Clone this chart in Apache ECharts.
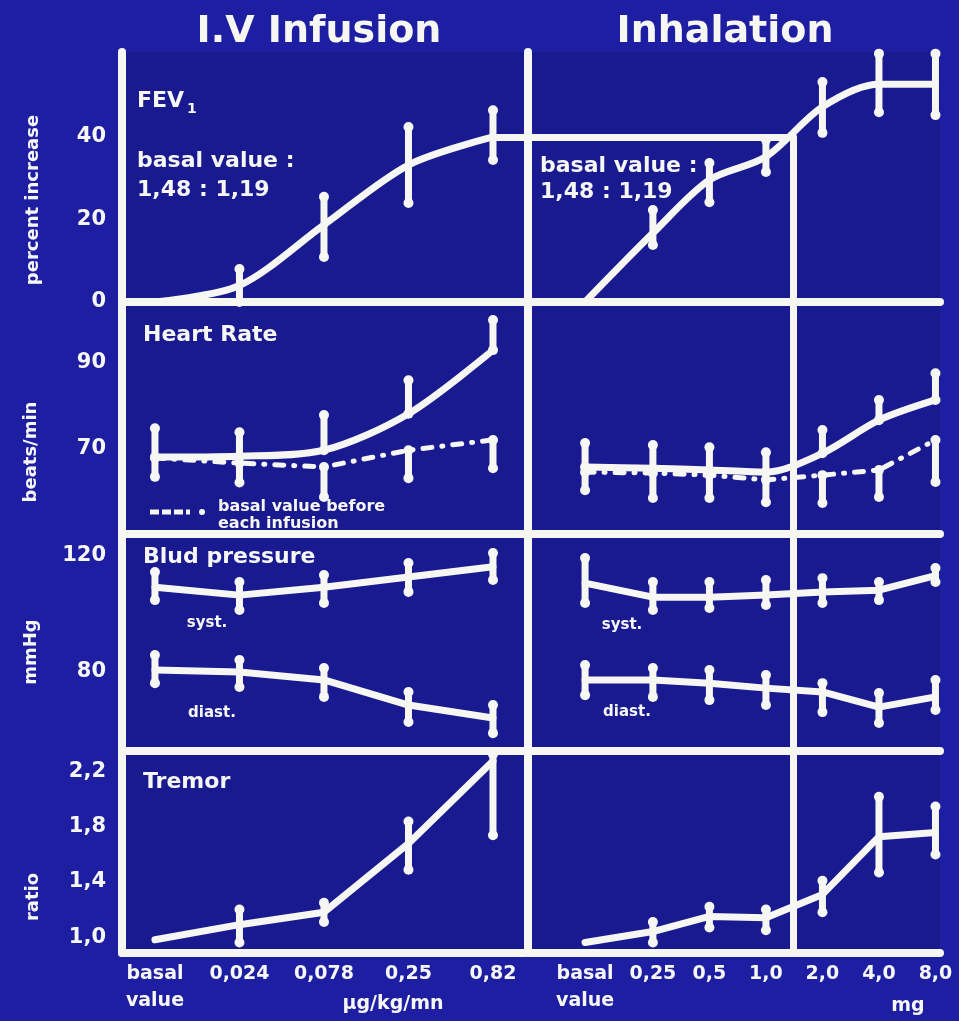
<!DOCTYPE html>
<html><head><meta charset="utf-8">
<script src="https://cdn.jsdelivr.net/npm/echarts@6/dist/echarts.min.js"></script>
<style>html,body{margin:0;padding:0;background:#1e1ea2;} #c{width:959px;height:1021px;}</style>
</head><body><div id="c"></div>
<script>
// ---------- data ----------
const ivDoseLabels = ['basal\nvalue', '0,024', '0,078', '0,25', '0,82'];
const inhDoseLabels = ['basal\nvalue', '0,25', '0,5', '1,0', '2,0', '4,0', '8,0'];
const inhDoseMg = [0, 0.25, 0.5, 1, 2, 4, 8];   // 0 = basal value
const equivalentDoseMg = 1.39;

const fev1TickLabels = [0, 20, 40];
const hrTickLabels = [70, 90];
const bpTickLabels = [80, 120];
const tremorTickLabels = [1.0, 1.4, 1.8, 2.2];

// FEV1, percent increase
const fev1Iv = [0, 4, 18.7, 33.2, 40];
const fev1IvLow = [null, 0, 10.9, 24, 34.4];
const fev1IvHigh = [null, 8, 25.5, 42.4, 46.5];
const fev1Inh = [0, 16.7, 29.6, 35.2, 47.3, 52.8, 52.8];
const fev1InhLow = [null, 13.8, 24.2, 31.5, 41, 46, 45.3];
const fev1InhHigh = [null, 22.3, 33.7, 39.3, 53.3, 60.2, 60.2];

// Heart rate, beats/min
const hrIv = [67.9, 68.1, 69.5, 78, 92.8];
const hrIvHigh = [74.6, 73.7, 77.7, 85.8, 99.8];
const hrIvBasal = [67.7, 66.5, 65.6, 69.5, 71.9];
const hrIvBasalLow = [63.3, 62, 58.6, 63, 65.3];
const hrInh = [65.6, 65.3, 64.9, 64.4, 68.8, 76.5, 81.2];
const hrInhHigh = [71.2, 70.7, 70.2, 69, 74.2, 81.2, 87.4];
const hrInhBasal = [64.4, 64.2, 63.7, 62.6, 63.7, 64.9, 71.9];
const hrInhBasalLow = [60.2, 58.4, 58.4, 57.4, 57.2, 58.6, 62.1];

// Blood pressure, mmHg
const bpSysIv = [109, 106.3, 109, 112.5, 116];
const bpSysIvLow = [104.6, 101.2, 103.6, 107.4, 111.5];
const bpSysIvHigh = [114.2, 110.8, 113.2, 117.3, 120.7];
const bpDiaIv = [80.7, 80, 77.3, 68.7, 64.3];
const bpDiaIvLow = [76.2, 74.9, 71.5, 62.9, 59.1];
const bpDiaIvHigh = [85.8, 84.1, 81.4, 73.2, 68.7];
const bpSysInh = [110.4, 105.6, 105.6, 106.3, 107.4, 108, 113];
const bpSysInhLow = [103.6, 101.2, 101.9, 102.9, 103.6, 104.6, 110.8];
const bpSysInhHigh = [119, 110.8, 110.8, 111.5, 112.1, 110.8, 115.6];
const bpDiaInh = [77.3, 77.3, 76.2, 74.5, 73.2, 68, 71.5];
const bpDiaInhLow = [72.1, 71.5, 70.4, 68.7, 66.3, 62.6, 67];
const bpDiaInhHigh = [82.4, 81.4, 80.7, 79, 76.2, 72.8, 77.3];

// Tremor, ratio
const tremorIv = [0.98, 1.09, 1.18, 1.68, 2.28];
const tremorIvLow = [null, 0.96, 1.11, 1.49, 1.74];
const tremorIvHigh = [null, 1.2, 1.25, 1.84, 2.33];
const tremorInh = [0.96, 1.04, 1.15, 1.14, 1.31, 1.73, 1.76];
const tremorInhLow = [null, 0.96, 1.07, 1.05, 1.18, 1.47, 1.6];
const tremorInhHigh = [null, 1.11, 1.22, 1.2, 1.41, 2.02, 1.95];

// ---------- layout ----------
const WHITE = '#f6f6f2';
const FONT = '"DejaVu Sans", sans-serif';
const INH_BASAL_POS = -3.2;
const ivX = ivDoseLabels.map((_, i) => i);
const inhX = inhDoseMg.map(d => d === 0 ? INH_BASAL_POS : Math.log2(d));
const eqX = Math.log2(equivalentDoseMg);
const IV_RANGE = [-0.39, 4.367];
const INH_RANGE = [-4.21, 3.08];
const COLS = [{ left: 122, width: 402 }, { left: 528, width: 412 }];
const ROWS = [{ top: 52, height: 250 }, { top: 302, height: 232 }, { top: 534, height: 217 }, { top: 751, height: 202 }];
const Y_RANGES = [[0, 60.6], [50, 104], [53, 127.2], [0.884, 2.353]];
const Y_TICKS = [fev1TickLabels, hrTickLabels, bpTickLabels, tremorTickLabels];

const grids = [], xAxes = [], yAxes = [];
ROWS.forEach((r, ri) => {
  COLS.forEach((c, ci) => {
    grids.push({ left: c.left, top: r.top, width: c.width, height: r.height, show: true,
      backgroundColor: '#191990', borderWidth: 0 });
    const k = grids.length - 1;
    const xr = ci === 0 ? IV_RANGE : INH_RANGE;
    const xPos = ci === 0 ? ivX : inhX;
    const xLab = ci === 0 ? ivDoseLabels : inhDoseLabels;
    xAxes.push({ type: 'value', gridIndex: k, min: xr[0], max: xr[1],
      splitLine: { show: false }, axisTick: { show: false },
      axisLine: { onZero: false, lineStyle: { color: WHITE, width: 8, cap: 'round' } },
      axisLabel: { show: ri === 3, customValues: xPos, margin: 8, color: WHITE,
        fontSize: 19, fontWeight: 'bold', fontFamily: FONT, lineHeight: 27, verticalAlign: 'top',
        formatter: v => { const i = xPos.findIndex(p => Math.abs(p - v) < 1e-6); return i < 0 ? '' : xLab[i]; } } });
    yAxes.push({ type: 'value', gridIndex: k, min: Y_RANGES[ri][0], max: Y_RANGES[ri][1],
      splitLine: { show: false }, axisTick: { show: false },
      axisLine: { onZero: false, lineStyle: { color: WHITE, width: 8, cap: 'round' } },
      axisLabel: { show: ci === 0, customValues: Y_TICKS[ri], margin: 16, color: WHITE,
        fontSize: 21, fontWeight: 'bold', fontFamily: FONT,
        formatter: v => ri === 3 ? v.toFixed(1).replace('.', ',') : String(Math.round(v)) } });
  });
});

function pts(xs, ys) { return xs.map((x, i) => [x, ys[i]]); }
function bars(xs, lo, hi) { return xs.map((x, i) => (lo[i] == null || hi[i] == null) ? null : [x, lo[i], hi[i]]).filter(Boolean); }

function errRender(params, api) {
  const a = api.coord([api.value(0), api.value(1)]);
  const b = api.coord([api.value(0), api.value(2)]);
  const st = { fill: WHITE };
  return { type: 'group', children: [
    { type: 'line', shape: { x1: a[0], y1: a[1], x2: b[0], y2: b[1] }, style: { stroke: WHITE, lineWidth: 7, lineCap: 'round' } },
    { type: 'circle', shape: { cx: a[0], cy: a[1], r: 5 }, style: st },
    { type: 'circle', shape: { cx: b[0], cy: b[1], r: 5 }, style: st }
  ] };
}
function errSeries(k, data) {
  return { type: 'custom', xAxisIndex: k, yAxisIndex: k, renderItem: errRender, data, silent: true, z: 4,
    encode: { x: 0, y: [1, 2] } };
}
function lineSeries(k, data, opt) {
  opt = opt || {};
  const s = { type: 'line', xAxisIndex: k, yAxisIndex: k, data, symbol: 'none', silent: true, z: 3,
    smooth: opt.smooth || false,
    lineStyle: { color: WHITE, width: opt.width || 7, cap: 'round', join: 'round', type: opt.type || 'solid' } };
  if (opt.mark) {
    s.markLine = { silent: true, symbol: ['none', 'none'], label: { show: false }, animation: false,
      lineStyle: { color: WHITE, width: 7, type: 'solid', cap: 'round' }, data: opt.mark };
  }
  return s;
}
const DOT = [9, 10, 1, 10];
const fev1Ref = fev1Iv[fev1Iv.length - 1];
const vMark = ri => [[{ coord: [eqX, Y_RANGES[ri][0]] }, { coord: [eqX, Y_RANGES[ri][1]] }]];

const series = [
  // FEV1
  lineSeries(0, pts(ivX, fev1Iv), { smooth: 0.3, mark: [[{ coord: [ivX[ivX.length - 1], fev1Ref] }, { coord: [IV_RANGE[1], fev1Ref] }]] }),
  errSeries(0, bars(ivX, fev1IvLow, fev1IvHigh)),
  lineSeries(1, pts(inhX, fev1Inh), { smooth: 0.3, mark: [
    [{ coord: [INH_RANGE[0], fev1Ref] }, { coord: [eqX, fev1Ref] }],
    [{ coord: [eqX, fev1Ref] }, { coord: [eqX, 0] }]] }),
  errSeries(1, bars(inhX, fev1InhLow, fev1InhHigh)),
  // Heart rate
  lineSeries(2, pts(ivX, hrIv), { smooth: 0.3 }),
  errSeries(2, bars(ivX, hrIv, hrIvHigh)),
  lineSeries(2, pts(ivX, hrIvBasal), { type: DOT, width: 5 }),
  errSeries(2, bars(ivX, hrIvBasalLow, hrIvBasal)),
  lineSeries(3, pts(inhX, hrInh), { smooth: 0.3, mark: vMark(1) }),
  errSeries(3, bars(inhX, hrInh, hrInhHigh)),
  lineSeries(3, pts(inhX, hrInhBasal), { type: DOT, width: 5 }),
  errSeries(3, bars(inhX, hrInhBasalLow, hrInhBasal)),
  // Blood pressure
  lineSeries(4, pts(ivX, bpSysIv)),
  errSeries(4, bars(ivX, bpSysIvLow, bpSysIvHigh)),
  lineSeries(4, pts(ivX, bpDiaIv)),
  errSeries(4, bars(ivX, bpDiaIvLow, bpDiaIvHigh)),
  lineSeries(5, pts(inhX, bpSysInh), { mark: vMark(2) }),
  errSeries(5, bars(inhX, bpSysInhLow, bpSysInhHigh)),
  lineSeries(5, pts(inhX, bpDiaInh)),
  errSeries(5, bars(inhX, bpDiaInhLow, bpDiaInhHigh)),
  // Tremor
  lineSeries(6, pts(ivX, tremorIv)),
  errSeries(6, bars(ivX, tremorIvLow, tremorIvHigh)),
  lineSeries(7, pts(inhX, tremorInh), { mark: vMark(3) }),
  errSeries(7, bars(inhX, tremorInhLow, tremorInhHigh))
];

function txt(text, x, y, size, opt) {
  opt = opt || {};
  return { type: 'text', x, y, rotation: opt.rot || 0, z: 10,
    style: { text, fill: WHITE, font: 'bold ' + size + 'px ' + FONT,
      textAlign: opt.align || 'left', textVerticalAlign: 'middle',
      align: opt.align || 'left', verticalAlign: 'middle', lineHeight: opt.lh || size + 4 } };
}
const graphics = [
  txt('I.V Infusion', 319, 32, 38, { align: 'center' }),
  txt('Inhalation', 725, 32, 38, { align: 'center' }),
  txt('percent increase', 33, 200, 18, { align: 'center', rot: Math.PI / 2 }),
  txt('beats/min', 31, 452, 18, { align: 'center', rot: Math.PI / 2 }),
  txt('mmHg', 31, 652, 18, { align: 'center', rot: Math.PI / 2 }),
  txt('ratio', 33, 897, 18, { align: 'center', rot: Math.PI / 2 }),
  txt('FEV', 137, 101, 22),
  txt('1', 187, 109, 14),
  txt('basal value :', 137, 161, 22),
  txt('1,48 : 1,19', 137, 190, 22),
  txt('basal value :', 540, 166, 22),
  txt('1,48 : 1,19', 540, 192, 22),
  txt('Heart Rate', 143, 335, 22),
  txt('basal value before', 218, 507, 16),
  txt('each infusion', 218, 524, 16),
  { type: 'line', z: 10, shape: { x1: 150, y1: 512, x2: 190, y2: 512 }, style: { stroke: WHITE, lineWidth: 5, lineDash: [9, 3] } },
  { type: 'circle', z: 10, shape: { cx: 202, cy: 512, r: 3 }, style: { fill: WHITE } },
  txt('Blud pressure', 143, 557, 22),
  txt('syst.', 207, 623, 15, { align: 'center' }),
  txt('diast.', 212, 713, 15, { align: 'center' }),
  txt('syst.', 622, 625, 15, { align: 'center' }),
  txt('diast.', 627, 712, 15, { align: 'center' }),
  txt('Tremor', 143, 782, 22),
  txt('\u00b5g/kg/mn', 393, 1004, 19, { align: 'center' }),
  txt('mg', 908, 1006, 19, { align: 'center' })
];

const chart = echarts.init(document.getElementById('c'), null, { renderer: 'canvas' });
chart.setOption({
  backgroundColor: '#1e1ea2',
  animation: false,
  grid: grids, xAxis: xAxes, yAxis: yAxes,
  series, graphic: graphics
});
</script></body></html>
